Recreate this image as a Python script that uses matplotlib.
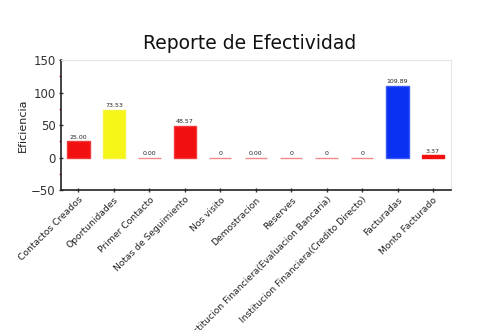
import matplotlib
matplotlib.use("Agg")
import matplotlib.pyplot as plt
import numpy as np
from matplotlib.ticker import MultipleLocator

plt.rcParams['font.family'] = ['DejaVu Sans']

# datos del reporte
categorias = ["Contactos Creados", "Oportunidades", "Primer Contacto", "Notas de Seguimiento",
              "Nos visito", "Demostracion", "Reserves",
              "Institucion Financiera(Evaluacion Bancaria)",
              "Institucion Financiera(Credito Directo)", "Facturadas", "Monto Facturado"]
valores = [25.00, 73.53, 0.00, 48.57, 0, 0.00, 0, 0, 0, 109.89, 3.37]
etiquetas = ["25.00", "73.53", "0.00", "48.57", "0", "0.00", "0", "0", "0", "109.89", "3.37"]
colores = ["#f20f0f", "#f5f518", "#f28a8a", "#f20f0f", "#f28a8a", "#f28a8a",
           "#f28a8a", "#f28a8a", "#f28a8a", "#0a30f2", "#f20f0f"]
bordes = ["#f33a3a", "#f5f540", "#f28a8a", "#f33a3a", "#f28a8a", "#f28a8a",
          "#f28a8a", "#f28a8a", "#f28a8a", "#3a58f5", "#f20f0f"]

fig = plt.figure(figsize=(5, 3.3), dpi=100)
ax = fig.add_axes([0.1214, 0.4242, 0.78, 0.3939])

x = np.arange(len(categorias))
rects = ax.bar(x, valores, width=0.63, color=colores, edgecolor=bordes, linewidth=1.0)

for xi, v, t in zip(x, valores, etiquetas):
    ax.text(xi, v + 2.5, t, ha='center', va='bottom', fontsize=4.5, color='#222222')

ax.set_xlim(-0.5, 10.5)
ax.set_ylim(-50, 150)
ax.yaxis.set_major_locator(MultipleLocator(50))
ax.yaxis.set_minor_locator(MultipleLocator(25))
ax.tick_params(axis='y', which='major', direction='inout', length=3.4, width=1,
               color='#333333', labelsize=8.5, labelcolor='#333333', pad=2)
ax.tick_params(axis='y', which='minor', direction='out', length=1.6, width=1, color='#f03030')
ax.tick_params(axis='x', direction='inout', length=3.4, width=1, color='#333333', pad=2)

ax.set_xticks(x)
ax.set_xticklabels(categorias, rotation=45, ha='right', rotation_mode='anchor',
                   fontsize=6.6, color='#222222')

ax.spines['left'].set_color('#222222')
ax.spines['bottom'].set_color('#222222')
ax.spines['left'].set_linewidth(1.2)
ax.spines['bottom'].set_linewidth(1.2)
ax.spines['top'].set_color('#e6e6e6')
ax.spines['right'].set_color('#e6e6e6')

ax.set_ylabel("Eficiencia", fontsize=8, color='#222222', labelpad=2)
fig.text(0.5, 0.867, "Reporte de Efectividad", ha='center', va='center',
         fontsize=13.5, color='#111111')

plt.savefig("out.png", dpi=100)
plt.close('all')
